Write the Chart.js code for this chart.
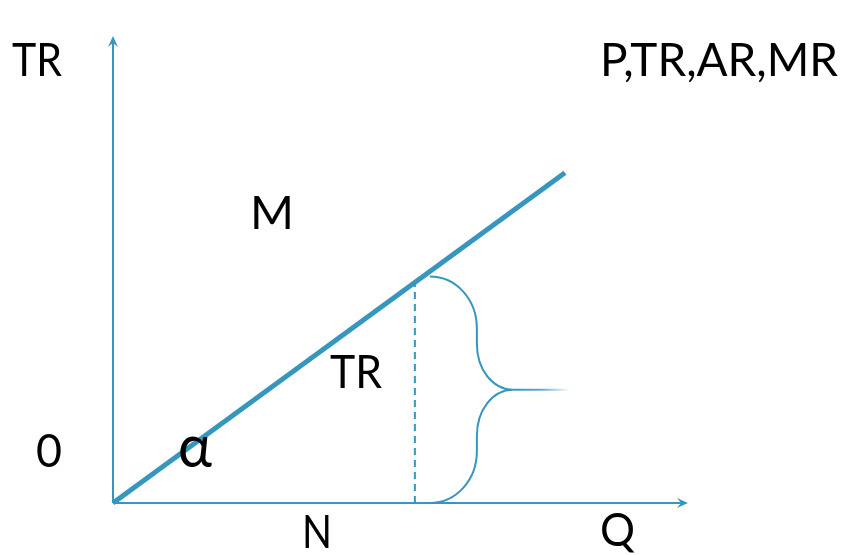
<!DOCTYPE html>
<html>
<head>
<meta charset="utf-8">
<script src="https://cdn.jsdelivr.net/npm/chart.js@4.4.1/dist/chart.umd.min.js"></script>
<style>
  html, body { margin: 0; padding: 0; background: #fff; }
  #wrap { width: 848px; height: 555px; }
</style>
</head>
<body>
<div id="wrap"><canvas id="c" width="848" height="555"></canvas></div>
<script>
// Total revenue line TR = P·Q under a constant price
const trQ = [0, 78.6];
const trValues = [0, 70.7];
// Output level N and the revenue at that output
const qN = 52.5;
const trAtN = 47.2;
// Axis extents (arrow tips)
const axisQMax = 100;
const axisTRMax = 100;

const blue = '#3796BE';

// text, left x, baseline y, drawn width, font size
const labels = [
  { text: 'TR', x: 12, y: 76, w: 50, s: 46 },
  { text: 'P,TR,AR,MR', x: 600, y: 76, w: 238, s: 46 },
  { text: 'M', x: 250, y: 229, w: 44, s: 46 },
  { text: 'TR', x: 330, y: 388, w: 52, s: 46 },
  { text: '0', x: 36, y: 467, w: 26, s: 46 },
  { text: 'α', x: 178, y: 467, w: 34, s: 60 },
  { text: 'N', x: 302, y: 548, w: 30, s: 46 },
  { text: 'Q', x: 600, y: 546, w: 35, s: 46 }
];

function arrowHead(ctx, tx, ty, dirX, dirY) {
  const len = 11, half = 5, notch = 7;
  const px = -dirY, py = dirX;
  ctx.beginPath();
  ctx.moveTo(tx, ty);
  ctx.lineTo(tx - dirX * len + px * half, ty - dirY * len + py * half);
  ctx.lineTo(tx - dirX * notch, ty - dirY * notch);
  ctx.lineTo(tx - dirX * len - px * half, ty - dirY * len - py * half);
  ctx.closePath();
  ctx.fill();
}

const decor = {
  id: 'decor',
  afterDatasetsDraw(chart) {
    const ctx = chart.ctx;
    const xs = chart.scales.x, ys = chart.scales.y;
    ctx.save();
    ctx.fillStyle = blue;
    // arrowheads on both axes
    arrowHead(ctx, xs.getPixelForValue(0), ys.getPixelForValue(axisTRMax), 0, -1);
    arrowHead(ctx, xs.getPixelForValue(axisQMax), ys.getPixelForValue(0), 1, 0);

    // curly brace spanning TR at output N
    const x0 = xs.getPixelForValue(qN) + 15;
    const yTop = ys.getPixelForValue(trAtN) - 6;
    const yBot = ys.getPixelForValue(0);
    const yMid = (yTop + yBot) / 2;
    const dx = 47, xm = x0 + dx, xt = x0 + 83;
    const ry = 52, k = 0.56;
    ctx.strokeStyle = blue;
    ctx.lineWidth = 2;
    ctx.beginPath();
    ctx.moveTo(x0, yTop);
    ctx.bezierCurveTo(x0 + dx * k, yTop, xm, yTop + ry * (1 - k), xm, yTop + ry);
    ctx.lineTo(xm, yMid - 46);
    ctx.bezierCurveTo(xm, yMid - 46 * (1 - k), xm + 36 * (1 - k), yMid, xt, yMid);
    ctx.moveTo(xt, yMid);
    ctx.bezierCurveTo(xm + 36 * (1 - k), yMid, xm, yMid + 46 * (1 - k), xm, yMid + 46);
    ctx.lineTo(xm, yBot - ry);
    ctx.bezierCurveTo(xm, yBot - ry * (1 - k), x0 + dx * k, yBot, x0, yBot);
    ctx.stroke();
    const g = ctx.createLinearGradient(xt, 0, xt + 57, 0);
    g.addColorStop(0, blue);
    g.addColorStop(0.5, 'rgba(55,150,190,0.8)');
    g.addColorStop(1, 'rgba(55,150,190,0)');
    ctx.strokeStyle = g;
    ctx.beginPath();
    ctx.moveTo(xt, yMid);
    ctx.lineTo(xt + 57, yMid);
    ctx.stroke();

    // text labels, stretched to their set widths
    ctx.fillStyle = '#000';
    ctx.textBaseline = 'alphabetic';
    ctx.textAlign = 'left';
    labels.forEach(l => {
      ctx.font = l.s + 'px Lato, "Open Sans", sans-serif';
      const m = ctx.measureText(l.text).width;
      ctx.save();
      ctx.translate(l.x, l.y);
      ctx.scale(l.w / m, 1);
      ctx.fillText(l.text, 0, 0);
      ctx.restore();
    });
    ctx.restore();
  }
};

new Chart(document.getElementById('c'), {
  type: 'line',
  data: {
    datasets: [
      {
        data: [{ x: 0, y: 0 }, { x: 0, y: axisTRMax - 1.5 }],
        borderColor: blue, borderWidth: 2, pointRadius: 0
      },
      {
        data: [{ x: 0, y: 0 }, { x: axisQMax - 1.2, y: 0 }],
        borderColor: blue, borderWidth: 2, pointRadius: 0
      },
      {
        data: [{ x: qN, y: 0 }, { x: qN, y: trAtN }],
        borderColor: blue, borderWidth: 2, borderDash: [7, 5], pointRadius: 0
      },
      {
        data: trQ.map((q, i) => ({ x: q, y: trValues[i] })),
        borderColor: blue, borderWidth: 5, pointRadius: 0, borderCapStyle: 'butt'
      }
    ]
  },
  options: {
    responsive: false,
    animation: false,
    clip: false,
    layout: { padding: { left: 113, right: 160, top: 36, bottom: 52 } },
    scales: {
      x: { type: 'linear', min: 0, max: axisQMax, display: false },
      y: { type: 'linear', min: 0, max: axisTRMax, display: false }
    },
    plugins: { legend: { display: false }, tooltip: { enabled: false } },
    elements: { line: { tension: 0 } }
  },
  plugins: [decor]
});
</script>
</body>
</html>
